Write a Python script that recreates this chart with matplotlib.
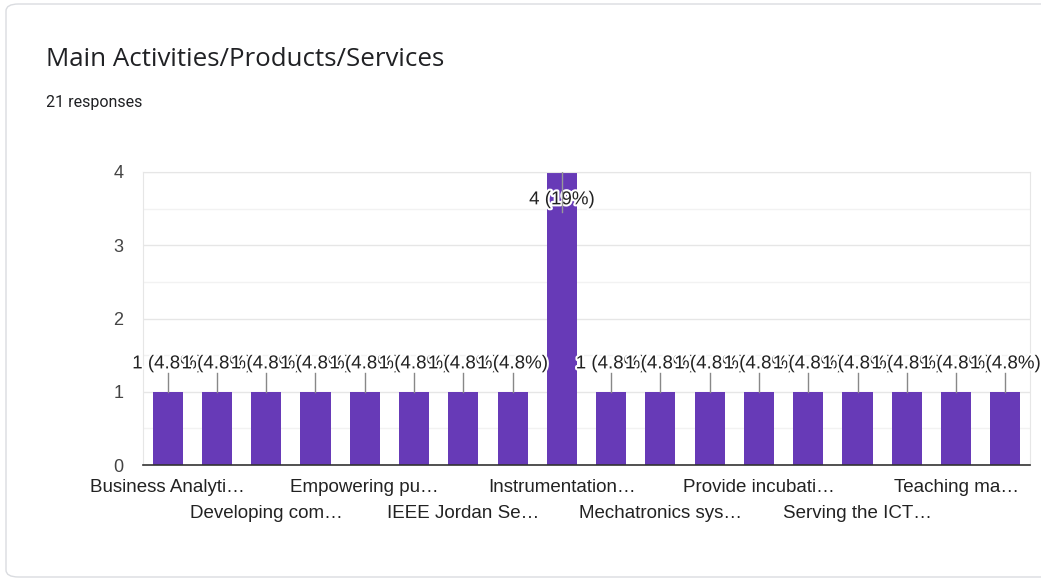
import matplotlib.pyplot as plt
import matplotlib.patheffects as pe
from matplotlib.patches import FancyBboxPatch

# survey answers, sorted alphabetically (only every other name is shown on the axis)
categories = [
    "Business Analyti\u2026", "", "Developing com\u2026", "", "Empowering pu\u2026", "",
    "IEEE Jordan Se\u2026", "", "Instrumentation\u2026", "", "Mechatronics sys\u2026", "",
    "Provide incubati\u2026", "", "Serving the ICT\u2026", "", "Teaching ma\u2026", "",
]
counts = [1, 1, 1, 1, 1, 1, 1, 1, 4, 1, 1, 1, 1, 1, 1, 1, 1, 1]
y_ticks = [0, 1, 2, 3, 4]

title = "Main Activities/Products/Services"
n_responses = sum(counts)

BAR = "#673ab7"
TXT = "#222222"
FS = 13.5

plt.rcParams['font.family'] = ['Liberation Sans', 'DejaVu Sans']

fig = plt.figure(figsize=(10.41, 5.82), dpi=100)

# card outline
card = FancyBboxPatch((6 / 1041, 5 / 582), 1.1, 573 / 582,
                      boxstyle="round,pad=0,rounding_size=0.012",
                      transform=fig.transFigure, facecolor="none",
                      edgecolor="#dadce0", linewidth=1.0, zorder=-1)
fig.patches.append(card)

fig.text(46 / 1041, 1 - 60 / 582, title, family=['Open Sans', 'DejaVu Sans'],
         fontsize=18.6, color="#202124", va="center", ha="left")
fig.text(46 / 1041, 1 - 102 / 582, f"{n_responses} responses",
         family=['Roboto', 'DejaVu Sans'], fontsize=11.5, color="#202124",
         va="center", ha="left")

ax = fig.add_axes([143 / 1041, 1 - 465 / 582, 887 / 1041, 293 / 582])
ax.set_facecolor("none")

x = list(range(len(counts)))
ax.bar(x, counts, width=0.61, color=BAR, zorder=2)

ax.set_xlim(-0.5, len(counts) - 0.5)
ax.set_ylim(0, max(y_ticks))
ax.set_yticks(y_ticks)
ax.set_yticks([v + 0.5 for v in y_ticks[:-1]], minor=True)
ax.grid(axis="y", which="major", color="#e6e6e6", linewidth=1.0, zorder=0)
ax.grid(axis="y", which="minor", color="#f2f2f2", linewidth=1.0, zorder=0)
ax.tick_params(axis="y", which="both", length=0, pad=14, labelsize=13, labelcolor="#444444")

# category names in two staggered rows: major ticks on top, minor ticks below
row1 = x[0::4]
row2 = x[2::4]
ax.set_xticks(row1)
ax.set_xticklabels([categories[i] for i in row1], fontsize=FS, color=TXT)
ax.set_xticks(row2, minor=True)
ax.set_xticklabels([categories[i] for i in row2], minor=True, fontsize=FS, color=TXT)
ax.tick_params(axis="x", which="major", length=0, pad=10)
ax.tick_params(axis="x", which="minor", length=0, pad=28.5)

for side in ("left", "right", "top"):
    ax.spines[side].set_color("#e6e6e6")
ax.spines["bottom"].set_color("#333333")
ax.spines["bottom"].set_linewidth(1.2)
ax.spines["bottom"].set_zorder(3)

# value annotations with leader lines
top = max(counts)
for i, c in enumerate(counts):
    pct = 100 * c / n_responses
    label = f"{c} ({pct:.2g}%)"
    if c < top:
        ty = c + 0.38
        ax.plot([i, i], [c, c + 0.26], color="#888888", linewidth=1.0, zorder=4)
    else:
        ty = c - 0.38
        ax.plot([i, i], [c, c - 0.55], color="#999999", linewidth=1.0, zorder=6)
    ax.text(i, ty, label, ha="center", va="center", fontsize=FS, color=TXT,
            zorder=5, path_effects=[pe.withStroke(linewidth=3, foreground="white")])

fig.savefig("out.png", dpi=100)
